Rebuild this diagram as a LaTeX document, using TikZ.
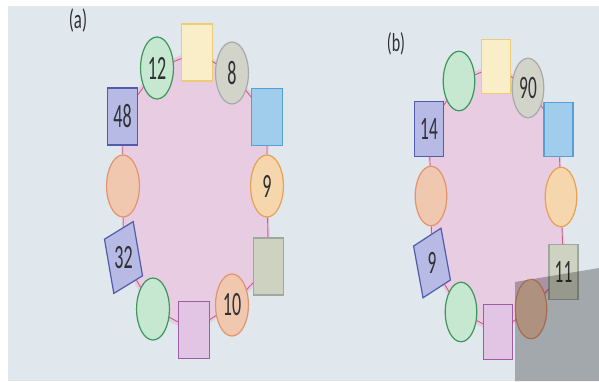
\documentclass[tikz,border=0pt]{standalone}
\usepackage{fontspec}
\setmainfont{Carlito}
\usetikzlibrary{backgrounds}

\definecolor{paper}{RGB}{224,231,237}
\definecolor{ringpink}{RGB}{231,204,226}
\definecolor{linkred}{RGB}{196,98,138}
\definecolor{numgray}{RGB}{48,48,52}
\definecolor{mintfill}{RGB}{198,231,208}   \definecolor{mintline}{RGB}{62,150,92}
\definecolor{creamfill}{RGB}{249,238,200}  \definecolor{creamline}{RGB}{236,204,120}
\definecolor{stonefill}{RGB}{210,212,202}  \definecolor{stoneline}{RGB}{168,170,168}
\definecolor{skyfill}{RGB}{160,205,236}    \definecolor{skyline}{RGB}{86,160,212}
\definecolor{peachfill}{RGB}{246,214,172}  \definecolor{peachline}{RGB}{232,160,82}
\definecolor{olivefill}{RGB}{206,210,192}  \definecolor{oliveline}{RGB}{160,166,160}
\definecolor{salmonfill}{RGB}{240,200,176} \definecolor{salmonline}{RGB}{226,148,108}
\definecolor{plumfill}{RGB}{226,196,228}   \definecolor{plumline}{RGB}{158,92,162}
\definecolor{slatefill}{RGB}{182,186,228}  \definecolor{slateline}{RGB}{80,92,172}

\begin{document}
\begin{tikzpicture}[x=1pt, y=1pt,
  bead/.style={circle, minimum size=62pt, inner sep=0pt, fill=#1fill, draw=#1line,
    line width=1.2pt, xscale=0.53, text=numgray, font=\fontsize{34}{34}\selectfont},
  tile/.style={rectangle, minimum size=57pt, inner sep=0pt, fill=#1fill, draw=#1line,
    line width=1.2pt, xscale=0.53, text=numgray, font=\fontsize{34}{34}\selectfont},
  tag/.style={xscale=0.62, text=numgray, font=\fontsize{27}{27}\selectfont},
  link/.style={draw=linkred, line width=0.9pt}]
 \useasboundingbox (0,0) rectangle (599,-381);

 % (a)
 \node[tag] (taga) at (78,-20) {(a)};
 \node[bead=mint]   (a1)  at (157,-68)    {12};
 \node[tile=cream]  (a2)  at (197,-52.5)  {};
 \node[bead=stone]  (a3)  at (232,-73)    {8};
 \node[tile=sky]    (a4)  at (267,-117)   {};
 \node[bead=peach]  (a5)  at (267,-186)   {9};
 \node[tile=olive]  (a6)  at (268.5,-266.5) {};
 \node[bead=salmon] (a7)  at (232,-305)   {10};
 \node[tile=plum]   (a8)  at (194,-330)   {};
 \node[bead=mint]   (a9)  at (153,-309)   {};
 \node[tile=slate, rotate=18] (a10) at (123.5,-257.5) {\rotatebox{-18}{32}};
 \node[bead=salmon] (a11) at (123,-186)   {};
 \node[tile=slate]  (a12) at (122.5,-116.5) {48};

 \draw[link]
   (a1) -- (a2)  (a2) -- (a3)  (a3) -- (a4)  (a4) -- (a5)
   (a5) -- (a6)  (a6) -- (a7)  (a7) -- (a8)  (a8) -- (a9)
   (a9) -- (a10) (a10) -- (a11) (a11) -- (a12) (a12) -- (a1);

 % (b)
 \begin{scope}[every node/.append style={scale=0.96}]
 \node[tag] (tagb) at (396,-44) {(b)};
 \node[bead=mint]   (b1)  at (459,-81)    {};
 \node[tile=cream]  (b2)  at (496,-66.5)  {};
 \node[bead=stone]  (b3)  at (528,-88)    {90};
 \node[tile=sky]    (b4)  at (558.5,-129.5) {};
 \node[bead=peach]  (b5)  at (561,-197)   {};
 \node[tile=olive]  (b6)  at (563.5,-272) {11};
 \node[bead=salmon] (b7)  at (531,-309)   {};
 \node[tile=plum]   (b8)  at (498,-332)   {};
 \node[bead=mint]   (b9)  at (461,-312)   {};
 \node[tile=slate, rotate=19] (b10) at (432,-263) {\rotatebox{-19}{9}};
 \node[bead=salmon] (b11) at (431,-196)   {};
 \node[tile=slate]  (b12) at (429,-129)   {14};
 \end{scope}

 \draw[link]
   (b1) -- (b2)  (b2) -- (b3)  (b3) -- (b4)  (b4) -- (b5)
   (b5) -- (b6)  (b6) -- (b7)  (b7) -- (b8)  (b8) -- (b9)
   (b9) -- (b10) (b10) -- (b11) (b11) -- (b12) (b12) -- (b1);

 % shadow of the camera, lower right
 \fill[black, opacity=0.27] (515,-282) -- (599,-268) -- (599,-381) -- (515,-381) -- cycle;

 \begin{scope}[on background layer]
  \fill[white] (0,0) rectangle (599,-381);
  \fill[paper] (8,-6) rectangle (599,-381);
  \fill[ringpink] plot[smooth cycle] coordinates
    {(a1) (a2) (a3) (a4) (a5) (a6) (a7) (a8) (a9) (a10) (a11) (a12)};
  \fill[ringpink] plot[smooth cycle] coordinates
    {(b1) (b2) (b3) (b4) (b5) (b6) (b7) (b8) (b9) (b10) (b11) (b12)};
 \end{scope}
\end{tikzpicture}
\end{document}
